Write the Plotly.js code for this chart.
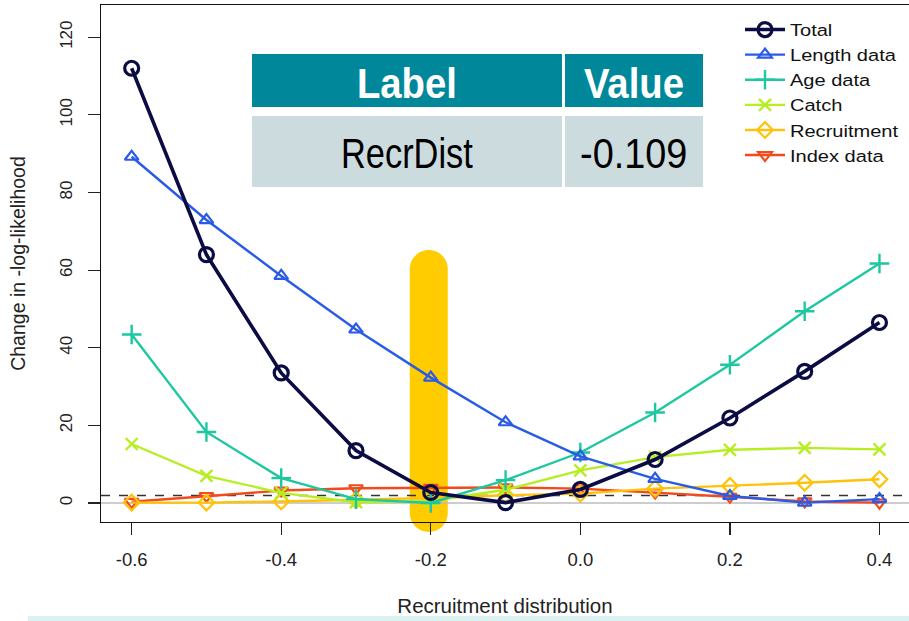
<!DOCTYPE html>
<html><head><meta charset="utf-8">
<script src="https://cdn.plot.ly/plotly-3.0.1.min.js"></script>
<style>
html,body{margin:0;padding:0;background:#fff;}
#chart{width:909px;height:621px;}
.annotation-text{transform-box:fill-box;transform-origin:center;transform:scaleX(0.8);}
.annotation[data-index="0"] .annotation-text,
.annotation[data-index="2"] .annotation-text{transform:scaleX(0.89);}
.annotation[data-index="3"] .annotation-text{transform:scaleX(0.88);}
.legendtext{transform-box:fill-box;transform-origin:0 50%;transform:scaleX(1.18);}
</style></head><body><div id="chart"></div>
<script>
// ---- data ----
const xValues = [-0.6, -0.5, -0.4, -0.3, -0.2, -0.1, 0.0, 0.1, 0.2, 0.3, 0.4];
const totalVals = [112.0, 64.0, 33.5, 13.5, 2.7, 0.1, 3.5, 11.2, 21.9, 33.9, 46.5];
const lengthVals = [89.2, 72.9, 58.5, 44.7, 32.3, 20.8, 12.0, 6.2, 1.8, 0.1, 1.0];
const ageVals = [43.4, 18.3, 6.4, 1.0, 0.0, 5.9, 13.0, 23.3, 35.6, 49.4, 61.7];
const catchVals = [15.2, 7.0, 2.6, 0.2, 0.5, 3.4, 8.4, 11.8, 13.7, 14.2, 13.8];
const recruitVals = [0.1, 0.1, 0.4, 0.8, 1.3, 2.0, 2.4, 3.7, 4.4, 5.2, 6.1];
const indexVals = [0.3, 1.8, 3.2, 3.8, 3.9, 4.0, 3.7, 2.7, 1.6, 0.4, 0.1];
const seriesNames = ['Total', 'Length data', 'Age data', 'Catch', 'Recruitment', 'Index data'];
const xTickVals = [-0.6, -0.4, -0.2, 0.0, 0.2, 0.4];
const xTickText = ['-0.6', '-0.4', '-0.2', '0.0', '0.2', '0.4'];
const yTickVals = [0, 20, 40, 60, 80, 100, 120];
const thresholdValue = 1.92;
const highlightX = -0.2;
const tableHeader = ['Label', 'Value'];
const tableRow = ['RecrDist', '-0.109'];

// ---- helpers for paper placement (plot area: x 101..909, y 5..522) ----
const px2x = p => (p - 101) / 808;
const py2y = p => (522 - p) / 517;

const FONT = 'Liberation Sans, Arial, sans-serif';

function tr(name, y, color, width, symbol, msize, mline, rank) {
  return {
    x: xValues, y: y, name: name, type: 'scatter', mode: 'lines+markers',
    line: {color: color, width: width},
    marker: {symbol: symbol, size: msize, color: color, line: {color: color, width: mline}},
    legendrank: rank
  };
}

const traces = [
  tr(seriesNames[5], indexVals, '#F24A1A', 2.4, 'triangle-down-open', 12, 2.2, 6),
  tr(seriesNames[4], recruitVals, '#FFC20A', 2.4, 'diamond-open', 12, 2.2, 5),
  tr(seriesNames[3], catchVals, '#B7EE22', 2.4, 'x-thin-open', 12, 2.4, 4),
  tr(seriesNames[2], ageVals, '#1DC8A0', 2.4, 'cross-thin-open', 14, 2.4, 3),
  tr(seriesNames[1], lengthVals, '#2A5BE6', 2.4, 'triangle-up-open', 12, 2.2, 2),
  tr(seriesNames[0], totalVals, '#0C0C45', 3.6, 'circle-open', 14, 3.2, 1)
];

const colEdges = [[252, 562], [565, 703]];
const headerY = [54, 107];
const rowY = [116, 187];
const shapes = [
  {type: 'path', layer: 'below', xref: 'x', yref: 'paper', xsizemode: 'pixel', ysizemode: 'pixel',
   xanchor: highlightX, yanchor: 0,
   path: 'M -21 253 C -21 263.5 -12.5 272 -2 272 C 8.5 272 17 263.5 17 253 L 17 9 C 17 -1.5 8.5 -10 -2 -10 C -12.5 -10 -21 -1.5 -21 9 Z',
   fillcolor: 'rgb(255,204,0)', line: {width: 0}},
  {type: 'line', layer: 'below', xref: 'paper', yref: 'y', x0: 0, x1: 1, y0: 0, y1: 0,
   line: {color: '#BDBDBD', width: 1.5}},
  {type: 'line', layer: 'below', xref: 'paper', yref: 'y', x0: 0, x1: 1, y0: thresholdValue, y1: thresholdValue,
   line: {color: '#333333', width: 1.5, dash: 'dash'}},
  {type: 'rect', xref: 'paper', yref: 'paper', x0: px2x(28), x1: 1, y0: py2y(621), y1: py2y(616),
   fillcolor: '#DCF1F1', line: {width: 0}}
];
const annotations = [];
tableHeader.forEach((t, i) => {
  const [a, b] = colEdges[i];
  shapes.push({type: 'rect', xref: 'paper', yref: 'paper', layer: 'above',
    x0: px2x(a), x1: px2x(b), y0: py2y(headerY[1]), y1: py2y(headerY[0]),
    fillcolor: '#00889A', line: {width: 0}});
  shapes.push({type: 'rect', xref: 'paper', yref: 'paper', layer: 'above',
    x0: px2x(a), x1: px2x(b), y0: py2y(rowY[1]), y1: py2y(rowY[0]),
    fillcolor: '#CCDBDE', line: {width: 0}});
  annotations.push({xref: 'paper', yref: 'paper', x: px2x((a + b) / 2), y: py2y(82),
    text: t, showarrow: false, xanchor: 'center', yanchor: 'middle',
    font: {family: FONT, size: 43, color: '#ffffff', weight: 'bold'}});
  annotations.push({xref: 'paper', yref: 'paper', x: px2x((a + b) / 2), y: py2y(153),
    text: tableRow[i], showarrow: false, xanchor: 'center', yanchor: 'middle',
    font: {family: FONT, size: 43, color: '#000000'}});
});

const layout = {
  width: 909, height: 621,
  margin: {l: 101, r: 0, t: 5, b: 99, pad: 0},
  paper_bgcolor: '#ffffff', plot_bgcolor: '#ffffff',
  font: {family: FONT, size: 17, color: '#222222'},
  showlegend: true,
  legend: {x: px2x(740), y: py2y(12), xanchor: 'left', yanchor: 'top',
    bgcolor: 'rgba(0,0,0,0)', font: {family: FONT, size: 17, color: '#111111'},
    traceorder: 'normal', itemwidth: 40},
  xaxis: {
    range: [-0.641, 0.4395], showgrid: false, zeroline: false,
    showline: true, mirror: true, linecolor: '#111111', linewidth: 1.3,
    ticks: 'outside', ticklen: 12, tickwidth: 1.2, tickcolor: '#222222',
    tickvals: xTickVals, ticktext: xTickText, ticklabelstandoff: 8,
    tickfont: {family: FONT, size: 18.5, color: '#222222'},
    title: {text: 'Recruitment distribution', standoff: 30, font: {family: FONT, size: 20.5, color: '#222222'}}
  },
  yaxis: {
    range: [-4.9, 128.3], showgrid: false, zeroline: false,
    showline: true, mirror: false, linecolor: '#111111', linewidth: 1.3,
    ticks: 'outside', ticklen: 12, tickwidth: 1.2, tickcolor: '#222222',
    tickvals: yTickVals, tickangle: -90, ticklabelstandoff: 9,
    tickfont: {family: FONT, size: 17, color: '#222222'},
    title: {text: 'Change in -log-likelihood', standoff: 26, font: {family: FONT, size: 19.5, color: '#222222'}}
  },
  shapes: shapes,
  annotations: annotations
};

Plotly.newPlot('chart', traces, layout, {displayModeBar: false, staticPlot: true});
</script></body></html>
